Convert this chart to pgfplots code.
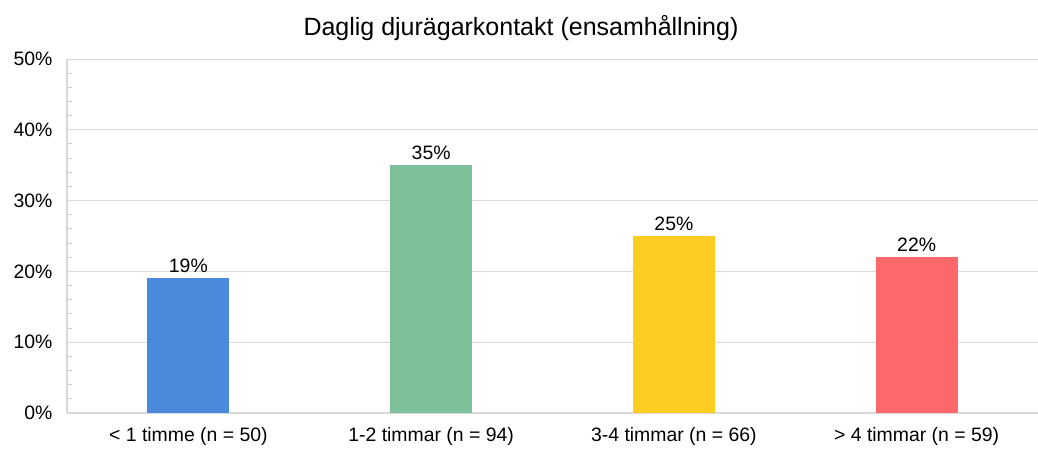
\documentclass[border=0pt]{standalone}
\usepackage{pgfplots}
\pgfplotsset{compat=1.18}
\usepackage{fontspec}
\setmainfont{Liberation Sans}
\definecolor{cblue}{HTML}{4A89DC}
\definecolor{cgreen}{HTML}{7DC09A}
\definecolor{cyellow}{HTML}{FDCD22}
\definecolor{cred}{HTML}{FF686B}
\definecolor{gridc}{HTML}{D9D9D9}
\definecolor{tickc}{HTML}{C8C8C8}
\begin{document}
\begin{tikzpicture}[x=1pt,y=1pt]
\useasboundingbox (-67,-35) rectangle (971,413);
\node[font=\fontsize{25}{30}\selectfont, text=black] at (454,385) {Daglig djurägarkontakt (ensamhållning)};
\begin{axis}[
  at={(0,0)}, anchor=south west,
  scale only axis, width=971pt, height=354pt,
  xmin=-0.5, xmax=3.5, ymin=0, ymax=50,
  axis x line*=bottom, axis y line*=left,
  axis line style={draw=gridc, line width=1.2pt},
  every outer x axis line/.append style={-}, every outer y axis line/.append style={-},
  xtick={0,1,2,3},
  xticklabels={{< 1 timme (n = 50)},{1-2 timmar (n = 94)},{3-4 timmar (n = 66)},{> 4 timmar (n = 59)}},
  ytick={0,10,20,30,40,50},
  yticklabel={\pgfmathprintnumber{\tick}\%},
  minor y tick num=4,
  ymajorgrids, major grid style={draw=gridc, line width=1pt},
  major tick length=0pt, minor tick length=5pt, tick align=inside,
  minor tick style={draw=tickc, line width=1pt},
  ytick pos=left, xtick pos=bottom,
  /pgf/number format/assume math mode=true,
  ticklabel style={font=\fontsize{19.4}{23}\selectfont, text=black},
  yticklabel style={xshift=-11pt},
  xticklabel style={yshift=-11pt},
  ybar, bar width=82pt, bar shift=0pt,
  nodes near coords={\pgfmathprintnumber{\pgfplotspointmeta}\%},
  every node near coord/.append style={font=\fontsize{19.4}{23}\selectfont, text=black, yshift=2pt},
  point meta=y,
]
\addplot[fill=cblue, draw=none] coordinates {(0,19)};
\addplot[fill=cgreen, draw=none] coordinates {(1,35)};
\addplot[fill=cyellow, draw=none] coordinates {(2,25)};
\addplot[fill=cred, draw=none] coordinates {(3,22)};
\end{axis}
\end{tikzpicture}
\end{document}
